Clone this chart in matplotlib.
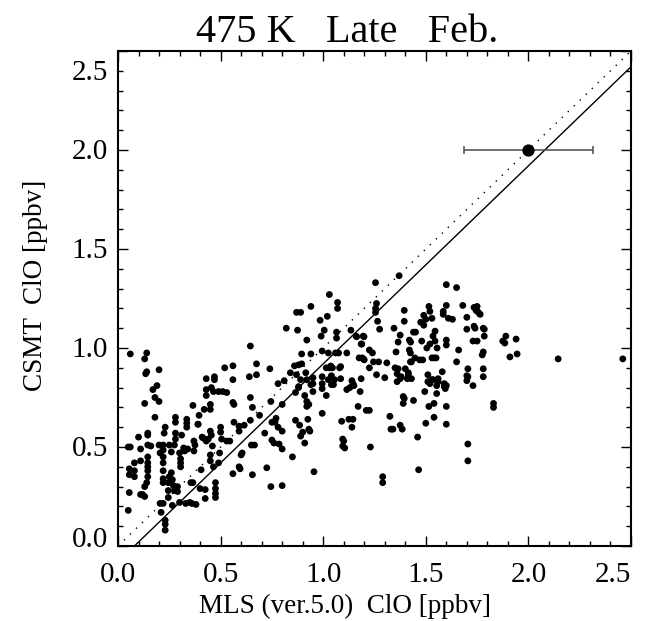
import numpy as np
import matplotlib
matplotlib.use("Agg")
import matplotlib.pyplot as plt
from matplotlib.ticker import MultipleLocator

# ---- data ----
mls_x = [
 0.06,0.05,0.06,0.055,0.055,0.08,0.08,0.08,0.055,0.05,0.10,0.11,0.11,0.11,0.12,0.13,0.13,0.14,
 0.145,0.145,0.145,0.145,0.145,0.145,0.145,0.145,0.16,0.13,0.14,0.135,0.14,0.13,0.18,
 0.17,0.19,0.18,0.20,0.20,0.20,0.205,0.22,0.22,0.22,0.22,0.22,0.22,0.22,0.205,0.22,0.21,
 0.23,0.23,0.23,0.225,0.23,0.245,0.245,0.245,0.25,0.25,0.26,0.26,0.265,0.27,0.275,0.265,
 0.275,0.28,0.28,0.28,0.28,0.29,0.29,0.30,0.305,0.305,0.305,0.31,0.32,0.325,0.30,0.33,
 0.335,0.335,0.335,0.34,
 0.35,0.36,0.38,0.355,0.365,0.37,0.375,0.365,0.37,0.39,0.39,0.395,0.40,0.405,0.41,0.415,
 0.425,0.425,0.42,0.43,0.43,0.43,0.43,0.44,0.45,0.45,0.45,0.455,0.45,0.45,0.46,0.455,0.465,
 0.465,0.47,0.47,0.475,0.475,0.475,0.475,0.49,0.49,0.495,0.50,0.50,0.505,0.51,0.52,0.53,
 0.53,0.545,0.56,0.56,0.56,0.56,0.565,0.565,
 0.59,0.59,0.59,0.595,0.60,0.605,0.615,0.64,0.645,0.645,0.645,0.65,0.665,0.655,0.655,0.675,
 0.675,0.69,0.715,0.725,0.74,0.745,0.745,0.75,0.75,0.76,0.765,
 0.77,0.78,0.78,0.785,0.80,0.80,0.80,0.80,0.82,0.81,0.84,0.85,0.86,0.865,0.865,0.87,0.87,
 0.875,0.88,0.88,0.88,0.885,0.89,0.89,0.89,0.895,0.895,0.90,0.91,0.91,0.915,0.92,0.92,0.92,
 0.92,0.925,0.93,0.93,0.935,0.94,0.94,0.94,0.95,0.95,0.95,0.955,
 0.985,0.995,0.995,0.995,0.995,0.995,1.005,1.015,1.015,1.02,1.025,1.025,1.03,1.03,1.04,1.04,
 1.045,1.05,1.055,1.06,1.065,1.065,1.07,1.07,1.075,1.08,1.085,1.09,1.095,1.095,1.10,1.105,
 1.115,1.115,1.125,1.13,1.135,1.14,1.14,1.145,1.145,1.15,
 1.16,1.17,1.175,1.18,1.185,1.185,1.19,1.195,1.195,1.20,1.21,1.225,1.225,1.225,1.23,1.24,
 1.245,1.255,1.255,1.255,1.26,1.26,1.265,1.27,1.275,1.29,1.29,1.30,1.31,
 1.325,1.33,1.34,1.345,1.35,1.355,1.36,1.36,1.365,1.365,1.37,1.375,1.375,1.375,1.38,1.385,
 1.39,1.39,1.395,1.395,1.395,1.40,1.41,1.415,1.415,1.42,1.425,1.425,1.43,1.44,1.44,1.45,
 1.46,1.465,
 1.47,1.475,1.48,1.485,1.49,1.49,1.495,1.50,1.50,1.505,1.51,1.51,1.515,1.515,1.52,1.52,1.52,
 1.53,1.53,1.53,1.535,1.535,1.54,1.54,1.54,1.545,1.545,1.55,1.553,1.553,1.555,1.56,1.56,
 1.58,1.585,1.585,1.59,1.59,1.595,1.60,1.60,1.60,1.60,1.60,1.60,1.60,
 1.61,1.63,1.65,1.65,1.66,1.68,1.70,1.70,1.705,1.70,1.70,1.705,1.705,1.705,1.73,1.73,1.735,
 1.735,1.74,1.745,1.75,1.75,1.752,1.76,1.765,1.775,1.78,1.78,1.78,1.78,1.785,1.785,1.83,1.83,
 1.875,1.885,1.89,1.91,1.94,1.945,2.145,2.46,
 0.99,1.163,1.199,1.188,1.426,1.42,1.43,1.447,1.085,1.037,
]
csmt_y = [
 0.97,0.50,0.50,0.39,0.36,0.42,0.38,0.35,0.27,0.18,0.55,0.49,0.43,0.26,0.26,0.25,0.30,0.32,
 0.35,0.38,0.40,0.42,0.45,0.51,0.56,0.57,0.505,0.945,0.975,0.87,0.88,0.72,0.65,
 0.79,0.81,0.75,0.73,0.89,0.51,0.47,0.51,0.485,0.45,0.42,0.38,0.34,0.32,0.215,0.215,0.17,
 0.13,0.11,0.08,0.57,0.60,0.32,0.28,0.245,0.35,0.51,0.475,0.37,0.335,0.305,0.28,0.205,
 0.51,0.54,0.57,0.625,0.65,0.30,0.275,0.47,0.44,0.42,0.40,0.56,0.495,0.48,0.22,0.215,
 0.64,0.62,0.60,0.49,
 0.22,0.215,0.21,0.32,0.32,0.53,0.51,0.71,0.48,0.615,0.615,0.66,0.29,0.385,0.55,0.545,
 0.285,0.24,0.69,0.845,0.79,0.76,0.53,0.54,0.715,0.69,0.58,0.56,0.46,0.43,0.505,0.80,0.78,
 0.40,0.855,0.84,0.32,0.29,0.265,0.245,0.78,0.42,0.47,0.60,0.575,0.54,0.78,0.90,0.775,
 0.53,0.53,0.365,0.91,0.84,0.725,0.715,0.625,
 0.605,0.58,0.40,0.39,0.46,0.47,0.61,0.855,1.01,0.75,0.635,0.51,0.51,0.36,0.70,0.92,
 0.865,0.66,0.57,0.395,0.895,0.73,0.30,0.625,0.535,0.52,0.625,
 0.645,0.60,0.82,0.515,0.49,0.305,0.715,0.58,1.10,0.835,0.875,0.45,0.91,0.775,0.635,0.865,1.18,
 1.09,0.915,0.80,0.805,0.61,1.18,0.84,0.555,0.97,0.92,0.575,0.52,0.76,0.875,0.84,1.04,0.73,
 0.705,0.64,0.715,0.59,0.58,0.815,0.97,1.21,0.85,0.82,0.78,0.375,
 1.14,0.855,0.82,0.795,0.985,0.67,1.09,0.90,0.76,1.16,0.84,0.975,0.90,1.27,0.815,0.86,
 0.90,0.815,0.84,0.975,1.05,1.08,1.23,1.20,0.975,0.90,0.845,0.63,0.505,0.54,0.53,0.495,
 0.79,0.975,0.64,0.80,1.09,0.835,0.60,0.82,0.64,0.81,
 1.06,0.705,0.95,0.78,0.845,1.02,0.95,1.06,0.945,0.94,0.685,0.685,0.90,0.99,0.50,0.975,
 0.93,1.20,1.18,1.33,1.225,0.865,1.135,0.93,1.095,0.35,0.32,0.85,0.925,
 0.655,0.59,0.59,1.10,0.90,0.98,0.87,0.83,1.03,0.895,1.365,0.845,1.065,0.61,0.855,0.59,
 0.755,0.72,0.745,1.19,1.135,0.895,0.845,0.875,0.865,1.04,0.975,0.93,0.845,1.08,0.735,1.08,
 0.55,0.385,
 0.94,1.13,1.035,0.94,1.165,1.115,0.78,0.62,1.145,1.00,0.865,0.83,0.705,1.21,1.185,0.82,1.02,
 1.15,0.84,0.95,1.06,0.84,0.72,0.65,0.95,1.035,1.085,0.95,0.77,0.81,1.00,0.845,0.83,
 0.88,1.185,1.17,0.805,0.82,0.795,0.615,0.705,0.81,1.015,1.04,1.215,1.32,
 1.15,1.145,0.93,1.305,0.99,1.215,1.155,1.095,0.895,0.86,0.835,0.515,0.43,0.855,0.81,1.035,1.11,
 1.205,1.10,1.19,1.21,1.035,1.185,1.175,1.17,0.965,0.98,0.895,0.855,1.10,1.095,1.06,0.72,0.70,
 1.035,1.025,1.06,0.955,1.045,0.97,0.945,0.945,
 1.06,1.057,1.057,1.02,1.03,0.99,0.93,0.95,0.906,0.909,
]

mean_x = [2.0]
mean_y = [2.0]
mean_xerr = [0.315]

fit_slope = 1.0
fit_intercept = -0.08

x_ticks = [0.0, 0.5, 1.0, 1.5, 2.0, 2.5]
y_ticks = [0.0, 0.5, 1.0, 1.5, 2.0, 2.5]
tick_labels = ["0.0", "0.5", "1.0", "1.5", "2.0", "2.5"]

# ---- plotting ----
plt.rcParams['font.family'] = ['Liberation Serif', 'DejaVu Serif']
fig = plt.figure(figsize=(6.54, 6.21), dpi=100)
ax = fig.add_axes([118/654, 1-546/621, (631-118)/654, (546-51)/621])

ax.scatter(mls_x, csmt_y, s=24, c='black', edgecolors='none', zorder=3)

line_x = np.array([0.0, 2.5])
ax.plot(line_x, line_x, color='black', lw=1.0, linestyle=(0, (1, 5)), zorder=2)
ax.plot(line_x, fit_slope*line_x + fit_intercept, color='black', lw=1.0, zorder=2)

ax.errorbar(mean_x, mean_y, xerr=mean_xerr, fmt='o', color='black', ms=7.8,
            ecolor='#4a4a4a', elinewidth=1.1, capsize=3, capthick=1.1, zorder=4)

ax.set_xlim(0, 2.5)
ax.set_ylim(0, 2.5)
ax.set_xticks(x_ticks)
ax.set_yticks(y_ticks)
ax.set_xticklabels([])
ax.set_yticklabels([])
ax.xaxis.set_minor_locator(MultipleLocator(0.1))
ax.yaxis.set_minor_locator(MultipleLocator(0.1))
ax.tick_params(which='both', direction='in', top=True, right=True, width=1.0)
ax.tick_params(which='major', length=7)
ax.tick_params(which='minor', length=3.5)
for sp in ax.spines.values():
    sp.set_linewidth(1.5)

# tick labels placed like the original (end labels pulled inward)
xdx = {2.5: -13}
for v, lab in zip(x_ticks, tick_labels):
    ax.annotate(lab, xy=(v, 0), xycoords=('data', 'axes fraction'),
                xytext=(xdx.get(v, 0), -26), textcoords='offset points',
                ha='center', va='baseline', fontsize=21)
ydy = {0.0: -0.7, 2.5: -21}
for v, lab in zip(y_ticks, tick_labels):
    ax.annotate(lab, xy=(0, v), xycoords=('axes fraction', 'data'),
                xytext=(-7.2, ydy.get(v, -6.8)), textcoords='offset points',
                ha='right', va='baseline', fontsize=21)

fig.text(347/654, 1-42/621, "475 K   Late   Feb.", ha='center', va='baseline', fontsize=29)
fig.text(345/654, 1-613/621, "MLS (ver.5.0)  ClO [ppbv]", ha='center', va='baseline', fontsize=19.5)
fig.text(36/654, 1-285/621, "CSMT  ClO [ppbv]", ha='center', va='center', rotation=90, fontsize=19.5)

fig.savefig("out.png", dpi=100)
